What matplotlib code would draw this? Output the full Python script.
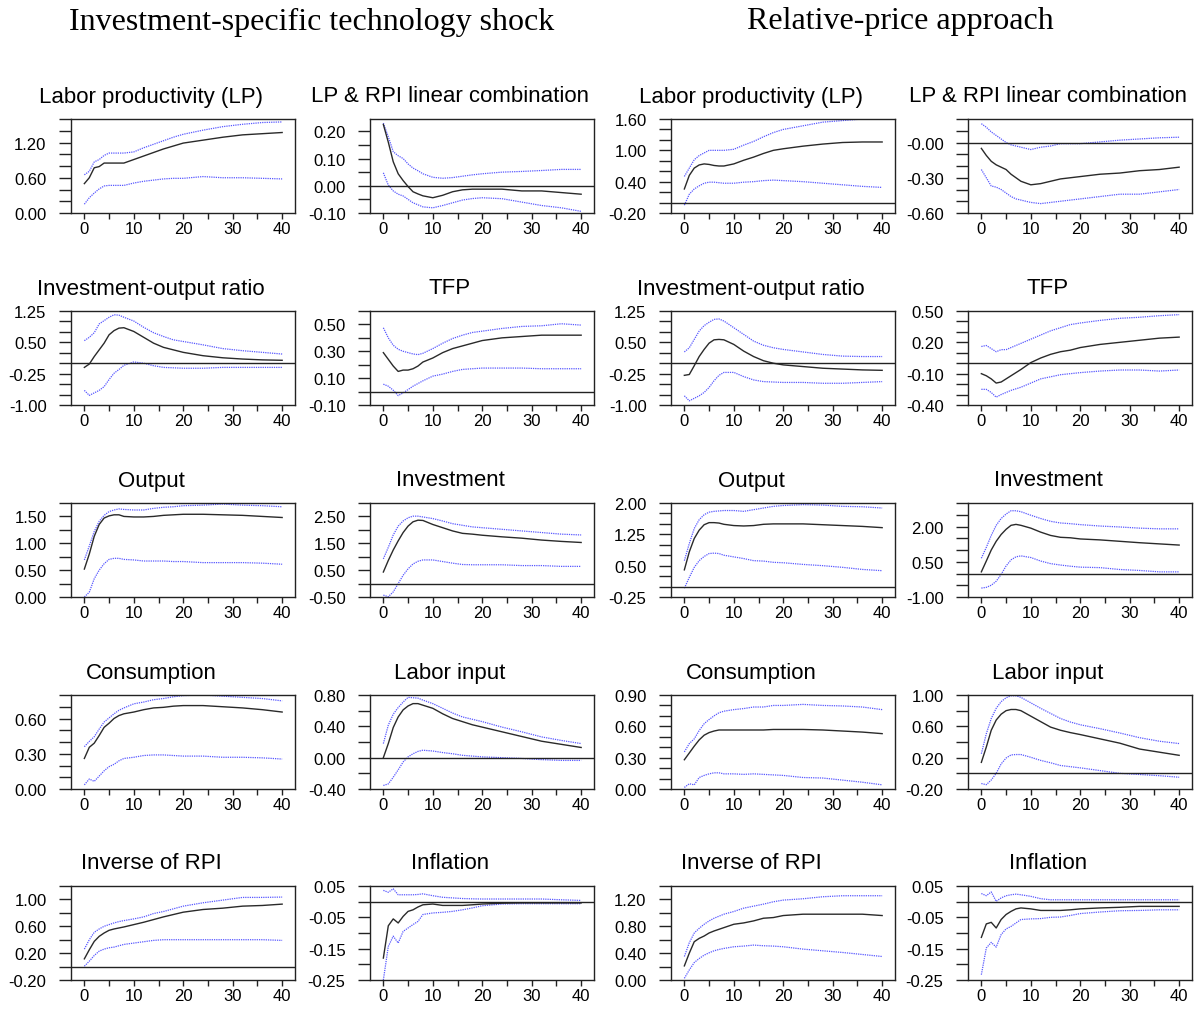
import numpy as np
import matplotlib.pyplot as plt

plt.rcParams['font.family'] = ['Liberation Sans', 'DejaVu Sans']

horizon = [0, 1, 2, 3, 4, 5, 6, 7, 8, 10, 12, 14, 16, 18, 20, 24, 28, 32, 36, 40]

# ---- investment-specific technology shock (left block)
lp_a = [0.50, 0.60, 0.77, 0.79, 0.85, 0.85, 0.85, 0.85, 0.85, 0.91, 0.97, 1.03, 1.09, 1.14, 1.19, 1.24, 1.29, 1.33, 1.35, 1.37]
lp_a_hi = [0.65, 0.71, 0.87, 0.91, 0.98, 1.02, 1.02, 1.02, 1.02, 1.04, 1.11, 1.17, 1.23, 1.29, 1.34, 1.41, 1.47, 1.51, 1.54, 1.55]
lp_a_lo = [0.15, 0.26, 0.34, 0.41, 0.46, 0.47, 0.47, 0.47, 0.47, 0.51, 0.54, 0.56, 0.58, 0.59, 0.59, 0.62, 0.60, 0.60, 0.59, 0.58]

comb_a = [0.225, 0.16, 0.088, 0.044, 0.019, -0.003, -0.022, -0.03, -0.037, -0.044, -0.035, -0.022, -0.015, -0.0125, -0.0125, -0.0125, -0.019, -0.019, -0.025, -0.031]
comb_a_hi = [0.23, 0.18, 0.125, 0.11, 0.10, 0.08, 0.065, 0.055, 0.044, 0.031, 0.0275, 0.03, 0.035, 0.04, 0.044, 0.05, 0.0525, 0.056, 0.06, 0.06]
comb_a_lo = [0.0475, 0.0025, -0.019, -0.031, -0.0375, -0.05, -0.0625, -0.07, -0.0775, -0.081, -0.0725, -0.0625, -0.0525, -0.047, -0.044, -0.0475, -0.06, -0.0725, -0.081, -0.094]

iy_a = [-0.10, -0.02, 0.16, 0.32, 0.48, 0.68, 0.78, 0.84, 0.85, 0.76, 0.62, 0.48, 0.38, 0.32, 0.26, 0.18, 0.13, 0.10, 0.08, 0.07]
iy_a_hi = [0.54, 0.62, 0.73, 0.94, 1.02, 1.10, 1.16, 1.15, 1.10, 1.01, 0.86, 0.73, 0.64, 0.56, 0.52, 0.44, 0.35, 0.30, 0.26, 0.22]
iy_a_lo = [-0.65, -0.77, -0.71, -0.65, -0.56, -0.39, -0.24, -0.15, -0.05, 0.03, 0.0, -0.06, -0.10, -0.11, -0.12, -0.12, -0.10, -0.10, -0.10, -0.10]

tfp_a = [0.29, 0.24, 0.19, 0.15, 0.16, 0.16, 0.17, 0.19, 0.22, 0.25, 0.29, 0.32, 0.34, 0.36, 0.38, 0.40, 0.41, 0.42, 0.42, 0.42]
tfp_a_hi = [0.475, 0.40, 0.345, 0.315, 0.30, 0.29, 0.28, 0.275, 0.285, 0.32, 0.36, 0.395, 0.42, 0.44, 0.45, 0.47, 0.485, 0.49, 0.505, 0.495]
tfp_a_lo = [0.055, 0.04, 0.01, -0.03, -0.01, 0.015, 0.04, 0.06, 0.08, 0.115, 0.13, 0.15, 0.165, 0.17, 0.175, 0.175, 0.175, 0.17, 0.17, 0.17]

y_a = [0.52, 0.80, 1.13, 1.35, 1.47, 1.51, 1.53, 1.53, 1.50, 1.49, 1.49, 1.50, 1.52, 1.53, 1.54, 1.54, 1.53, 1.52, 1.50, 1.48]
y_a_hi = [0.69, 0.95, 1.22, 1.41, 1.52, 1.59, 1.62, 1.64, 1.63, 1.62, 1.62, 1.65, 1.67, 1.68, 1.70, 1.71, 1.73, 1.71, 1.70, 1.68]
y_a_lo = [0.0, 0.09, 0.34, 0.50, 0.62, 0.70, 0.72, 0.72, 0.70, 0.69, 0.67, 0.67, 0.67, 0.66, 0.66, 0.64, 0.64, 0.64, 0.63, 0.61]

inv_a = [0.43, 0.86, 1.25, 1.59, 1.90, 2.14, 2.30, 2.36, 2.35, 2.20, 2.08, 1.96, 1.87, 1.84, 1.80, 1.74, 1.69, 1.62, 1.57, 1.53]
inv_a_hi = [0.92, 1.35, 1.81, 2.14, 2.33, 2.45, 2.51, 2.51, 2.48, 2.42, 2.33, 2.23, 2.17, 2.11, 2.08, 2.02, 1.96, 1.90, 1.84, 1.81]
inv_a_lo = [-0.43, -0.49, -0.31, 0.0, 0.31, 0.55, 0.73, 0.83, 0.88, 0.88, 0.82, 0.76, 0.71, 0.70, 0.70, 0.70, 0.67, 0.67, 0.64, 0.64]

c_a = [0.26, 0.355, 0.39, 0.455, 0.525, 0.56, 0.60, 0.625, 0.64, 0.655, 0.675, 0.69, 0.695, 0.705, 0.71, 0.71, 0.70, 0.69, 0.675, 0.655]
c_a_hi = [0.36, 0.405, 0.445, 0.51, 0.57, 0.605, 0.64, 0.67, 0.69, 0.725, 0.74, 0.76, 0.77, 0.785, 0.795, 0.80, 0.79, 0.78, 0.77, 0.75]
c_a_lo = [0.035, 0.085, 0.065, 0.11, 0.155, 0.19, 0.21, 0.24, 0.26, 0.27, 0.285, 0.29, 0.29, 0.285, 0.28, 0.28, 0.27, 0.27, 0.265, 0.255]

n_a = [0.0, 0.18, 0.385, 0.52, 0.61, 0.66, 0.69, 0.69, 0.67, 0.63, 0.56, 0.50, 0.46, 0.42, 0.39, 0.33, 0.27, 0.21, 0.17, 0.13]
n_a_hi = [0.18, 0.415, 0.555, 0.64, 0.71, 0.77, 0.765, 0.76, 0.735, 0.69, 0.63, 0.57, 0.52, 0.49, 0.46, 0.39, 0.33, 0.265, 0.22, 0.18]
n_a_lo = [-0.355, -0.335, -0.25, -0.155, -0.055, 0.01, 0.05, 0.08, 0.095, 0.085, 0.065, 0.05, 0.03, 0.02, 0.01, 0.0, -0.01, -0.025, -0.035, -0.035]

rpi_a = [0.115, 0.25, 0.375, 0.45, 0.50, 0.54, 0.56, 0.575, 0.59, 0.625, 0.66, 0.70, 0.74, 0.775, 0.81, 0.85, 0.87, 0.90, 0.91, 0.93]
rpi_a_hi = [0.26, 0.40, 0.51, 0.56, 0.60, 0.625, 0.65, 0.67, 0.685, 0.71, 0.74, 0.79, 0.82, 0.86, 0.90, 0.95, 0.99, 1.03, 1.03, 1.035]
rpi_a_lo = [0.005, 0.08, 0.165, 0.23, 0.26, 0.28, 0.29, 0.31, 0.33, 0.35, 0.37, 0.39, 0.40, 0.40, 0.40, 0.40, 0.40, 0.40, 0.40, 0.39]

infl_a = [-0.18, -0.077, -0.055, -0.068, -0.047, -0.031, -0.026, -0.017, -0.01, -0.0075, -0.012, -0.012, -0.012, -0.01, -0.0075, -0.005, -0.004, -0.004, -0.004, -0.004]
infl_a_hi = [0.036, 0.03, 0.041, 0.022, 0.022, 0.022, 0.022, 0.023, 0.025, 0.019, 0.014, 0.012, 0.01, 0.009, 0.0085, 0.0085, 0.0085, 0.0085, 0.006, 0.004]
infl_a_lo = [-0.25, -0.143, -0.11, -0.132, -0.095, -0.084, -0.073, -0.063, -0.041, -0.036, -0.034, -0.031, -0.026, -0.02, -0.013, -0.0075, -0.0065, -0.0065, -0.0065, -0.0065]

# ---- relative-price approach (right block)
lp_b = [0.26, 0.52, 0.66, 0.72, 0.74, 0.73, 0.71, 0.70, 0.70, 0.74, 0.81, 0.87, 0.94, 1.00, 1.03, 1.08, 1.12, 1.15, 1.16, 1.16]
lp_b_hi = [0.50, 0.66, 0.82, 0.90, 0.95, 1.00, 1.00, 1.00, 1.00, 1.02, 1.10, 1.17, 1.26, 1.34, 1.40, 1.47, 1.54, 1.57, 1.60, 1.61]
lp_b_lo = [-0.05, 0.16, 0.26, 0.32, 0.37, 0.39, 0.39, 0.38, 0.37, 0.37, 0.39, 0.40, 0.42, 0.43, 0.42, 0.40, 0.37, 0.34, 0.31, 0.29]

comb_b = [-0.05, -0.11, -0.16, -0.19, -0.21, -0.23, -0.27, -0.30, -0.33, -0.36, -0.35, -0.33, -0.31, -0.30, -0.29, -0.27, -0.26, -0.24, -0.23, -0.21]
comb_b_hi = [0.16, 0.13, 0.09, 0.06, 0.03, 0.0, -0.02, -0.03, -0.04, -0.06, -0.04, -0.03, -0.01, -0.01, -0.01, 0.005, 0.02, 0.03, 0.04, 0.045]
comb_b_lo = [-0.23, -0.30, -0.37, -0.38, -0.40, -0.43, -0.46, -0.48, -0.49, -0.51, -0.52, -0.51, -0.50, -0.49, -0.48, -0.46, -0.44, -0.44, -0.42, -0.40]

iy_b = [-0.29, -0.27, -0.06, 0.16, 0.33, 0.48, 0.56, 0.57, 0.56, 0.45, 0.29, 0.16, 0.06, 0.0, -0.04, -0.08, -0.12, -0.14, -0.16, -0.17]
iy_b_hi = [0.27, 0.37, 0.57, 0.77, 0.90, 0.98, 1.05, 1.06, 1.01, 0.85, 0.69, 0.53, 0.43, 0.37, 0.33, 0.27, 0.21, 0.17, 0.16, 0.16]
iy_b_lo = [-0.78, -0.90, -0.84, -0.78, -0.70, -0.58, -0.42, -0.29, -0.22, -0.22, -0.32, -0.40, -0.44, -0.45, -0.46, -0.46, -0.48, -0.48, -0.46, -0.44]

tfp_b = [-0.10, -0.12, -0.15, -0.19, -0.18, -0.15, -0.12, -0.09, -0.06, 0.006, 0.05, 0.085, 0.11, 0.125, 0.15, 0.18, 0.20, 0.22, 0.24, 0.25]
tfp_b_hi = [0.16, 0.17, 0.14, 0.11, 0.13, 0.13, 0.15, 0.17, 0.19, 0.23, 0.27, 0.31, 0.34, 0.37, 0.385, 0.41, 0.43, 0.44, 0.455, 0.465]
tfp_b_lo = [-0.25, -0.25, -0.28, -0.325, -0.30, -0.28, -0.26, -0.245, -0.23, -0.19, -0.15, -0.13, -0.11, -0.10, -0.09, -0.075, -0.065, -0.065, -0.075, -0.065]

y_b = [0.40, 0.83, 1.15, 1.35, 1.48, 1.53, 1.53, 1.52, 1.49, 1.46, 1.45, 1.46, 1.49, 1.50, 1.50, 1.50, 1.48, 1.46, 1.44, 1.41]
y_b_hi = [0.62, 1.03, 1.39, 1.60, 1.72, 1.78, 1.80, 1.81, 1.82, 1.82, 1.80, 1.84, 1.88, 1.92, 1.94, 1.96, 1.95, 1.92, 1.91, 1.88]
y_b_lo = [-0.04, 0.22, 0.46, 0.62, 0.72, 0.79, 0.80, 0.79, 0.75, 0.71, 0.67, 0.62, 0.61, 0.58, 0.57, 0.53, 0.50, 0.46, 0.41, 0.38]

inv_b = [0.07, 0.53, 1.00, 1.37, 1.66, 1.88, 2.05, 2.09, 2.05, 1.93, 1.76, 1.62, 1.54, 1.52, 1.47, 1.43, 1.37, 1.31, 1.26, 1.21]
inv_b_hi = [0.65, 1.11, 1.62, 2.05, 2.34, 2.53, 2.67, 2.67, 2.63, 2.48, 2.34, 2.22, 2.15, 2.12, 2.08, 2.02, 1.98, 1.93, 1.90, 1.90]
inv_b_lo = [-0.62, -0.59, -0.50, -0.33, -0.04, 0.32, 0.58, 0.71, 0.75, 0.68, 0.53, 0.42, 0.36, 0.31, 0.27, 0.25, 0.17, 0.13, 0.07, 0.07]

c_b = [0.28, 0.345, 0.41, 0.47, 0.515, 0.54, 0.555, 0.565, 0.565, 0.565, 0.565, 0.565, 0.565, 0.57, 0.57, 0.57, 0.565, 0.555, 0.545, 0.53]
c_b_hi = [0.355, 0.435, 0.48, 0.56, 0.625, 0.665, 0.70, 0.73, 0.745, 0.76, 0.77, 0.785, 0.785, 0.80, 0.80, 0.81, 0.80, 0.795, 0.785, 0.76]
c_b_lo = [0.015, 0.05, 0.04, 0.11, 0.13, 0.145, 0.155, 0.155, 0.145, 0.145, 0.14, 0.145, 0.14, 0.135, 0.13, 0.11, 0.105, 0.085, 0.065, 0.04]

n_b = [0.14, 0.335, 0.55, 0.68, 0.755, 0.80, 0.815, 0.815, 0.80, 0.73, 0.66, 0.59, 0.55, 0.52, 0.495, 0.44, 0.385, 0.31, 0.27, 0.23]
n_b_hi = [0.25, 0.505, 0.70, 0.83, 0.915, 0.965, 0.99, 0.99, 0.97, 0.90, 0.83, 0.765, 0.70, 0.655, 0.62, 0.57, 0.515, 0.455, 0.41, 0.38]
n_b_lo = [-0.13, -0.145, -0.085, 0.0, 0.12, 0.195, 0.235, 0.24, 0.24, 0.205, 0.165, 0.135, 0.10, 0.085, 0.07, 0.035, 0.0, -0.015, -0.03, -0.05]

rpi_b = [0.21, 0.40, 0.57, 0.62, 0.655, 0.70, 0.73, 0.755, 0.78, 0.83, 0.85, 0.88, 0.92, 0.93, 0.96, 0.98, 0.98, 0.98, 0.98, 0.96]
rpi_b_hi = [0.35, 0.555, 0.70, 0.77, 0.83, 0.88, 0.92, 0.95, 0.98, 1.02, 1.07, 1.10, 1.13, 1.165, 1.19, 1.21, 1.24, 1.255, 1.255, 1.255]
rpi_b_lo = [0.025, 0.15, 0.26, 0.32, 0.37, 0.405, 0.435, 0.455, 0.47, 0.495, 0.505, 0.52, 0.51, 0.505, 0.495, 0.46, 0.435, 0.41, 0.38, 0.35]

infl_b = [-0.114, -0.071, -0.066, -0.084, -0.057, -0.041, -0.031, -0.023, -0.02, -0.023, -0.028, -0.028, -0.028, -0.026, -0.023, -0.02, -0.018, -0.015, -0.015, -0.015]
infl_b_hi = [0.026, 0.019, 0.031, 0.001, 0.012, 0.019, 0.022, 0.024, 0.022, 0.017, 0.0095, 0.006, 0.006, 0.006, 0.006, 0.006, 0.006, 0.006, 0.006, 0.006]
infl_b_lo = [-0.233, -0.148, -0.13, -0.145, -0.105, -0.087, -0.079, -0.068, -0.057, -0.055, -0.054, -0.05, -0.049, -0.044, -0.038, -0.033, -0.029, -0.028, -0.026, -0.026]

# labelled y ticks for each panel
lab_lp_a = ["0.00", "0.60", "1.20"]
lab_comb_a = ["-0.10", "0.00", "0.10", "0.20"]
lab_lp_b = ["-0.20", "0.40", "1.00", "1.60"]
lab_comb_b = ["-0.60", "-0.30", "-0.00"]
lab_iy = ["-1.00", "-0.25", "0.50", "1.25"]
lab_tfp_a = ["-0.10", "0.10", "0.30", "0.50"]
lab_tfp_b = ["-0.40", "-0.10", "0.20", "0.50"]
lab_y_a = ["0.00", "0.50", "1.00", "1.50"]
lab_inv_a = ["-0.50", "0.50", "1.50", "2.50"]
lab_y_b = ["-0.25", "0.50", "1.25", "2.00"]
lab_inv_b = ["-1.00", "0.50", "2.00"]
lab_c_a = ["0.00", "0.30", "0.60"]
lab_n_a = ["-0.40", "0.00", "0.40", "0.80"]
lab_c_b = ["0.00", "0.30", "0.60", "0.90"]
lab_n_b = ["-0.20", "0.20", "0.60", "1.00"]
lab_rpi_a = ["-0.20", "0.20", "0.60", "1.00"]
lab_infl = ["-0.25", "-0.15", "-0.05", "0.05"]
lab_rpi_b = ["0.00", "0.40", "0.80", "1.20"]

# (row, col, title, irf, hi, lo, ylim, tick step, labels)
panels = [
    (0, 0, "Labor productivity (LP)", lp_a, lp_a_hi, lp_a_lo, (0, 1.6), 0.2, lab_lp_a),
    (0, 1, "LP & RPI linear combination", comb_a, comb_a_hi, comb_a_lo, (-0.1, 0.245), 0.05, lab_comb_a),
    (0, 2, "Labor productivity (LP)", lp_b, lp_b_hi, lp_b_lo, (-0.2, 1.6), 0.2, lab_lp_b),
    (0, 3, "LP & RPI linear combination", comb_b, comb_b_hi, comb_b_lo, (-0.6, 0.2), 0.1, lab_comb_b),
    (1, 0, "Investment-output ratio", iy_a, iy_a_hi, iy_a_lo, (-1.0, 1.25), 0.25, lab_iy),
    (1, 1, "TFP", tfp_a, tfp_a_hi, tfp_a_lo, (-0.1, 0.6), 0.1, lab_tfp_a),
    (1, 2, "Investment-output ratio", iy_b, iy_b_hi, iy_b_lo, (-1.0, 1.25), 0.25, lab_iy),
    (1, 3, "TFP", tfp_b, tfp_b_hi, tfp_b_lo, (-0.4, 0.5), 0.1, lab_tfp_b),
    (2, 0, "Output", y_a, y_a_hi, y_a_lo, (0, 1.75), 0.25, lab_y_a),
    (2, 1, "Investment", inv_a, inv_a_hi, inv_a_lo, (-0.5, 3.0), 0.5, lab_inv_a),
    (2, 2, "Output", y_b, y_b_hi, y_b_lo, (-0.25, 2.0), 0.25, lab_y_b),
    (2, 3, "Investment", inv_b, inv_b_hi, inv_b_lo, (-1.0, 3.0), 0.5, lab_inv_b),
    (3, 0, "Consumption", c_a, c_a_hi, c_a_lo, (0, 0.8), 0.1, lab_c_a),
    (3, 1, "Labor input", n_a, n_a_hi, n_a_lo, (-0.4, 0.8), 0.2, lab_n_a),
    (3, 2, "Consumption", c_b, c_b_hi, c_b_lo, (0, 0.9), 0.1, lab_c_b),
    (3, 3, "Labor input", n_b, n_b_hi, n_b_lo, (-0.2, 1.0), 0.2, lab_n_b),
    (4, 0, "Inverse of RPI", rpi_a, rpi_a_hi, rpi_a_lo, (-0.2, 1.2), 0.2, lab_rpi_a),
    (4, 1, "Inflation", infl_a, infl_a_hi, infl_a_lo, (-0.25, 0.05), 0.05, lab_infl),
    (4, 2, "Inverse of RPI", rpi_b, rpi_b_hi, rpi_b_lo, (0, 1.4), 0.2, lab_rpi_b),
    (4, 3, "Inflation", infl_b, infl_b_hi, infl_b_lo, (-0.25, 0.05), 0.05, lab_infl),
]

W, H = 1195, 1012
fig = plt.figure(figsize=(W / 100, H / 100), dpi=100)

col_left = [71, 370, 671, 968]
row_top = [120, 312, 504, 696, 887]
box_w, box_h = 224, 94

for row, col, title, irf, hi, lo, ylim, step, labels in panels:
    l, t = col_left[col], row_top[row]
    ax = fig.add_axes([l / W, 1 - (t + box_h) / H, box_w / W, box_h / H])
    ax.plot(horizon, hi, color='#5858ff', lw=0.9, ls=(0, (1, 0.8)))
    ax.plot(horizon, lo, color='#5858ff', lw=0.9, ls=(0, (1, 0.8)))
    ax.plot(horizon, irf, color='#2a2a2a', lw=1.0)
    if ylim[0] < 0 < ylim[1]:
        ax.axhline(0, color='#222222', lw=1.0)
    ax.set_xlim(-2.7, 42.6)
    ax.set_ylim(*ylim)

    xt = list(range(0, 41, 5))
    ax.set_xticks(xt)
    ax.set_xticklabels([str(v) if v % 10 == 0 else '' for v in xt])

    yt = np.round(np.arange(ylim[0], ylim[1] + 1e-9, step), 4)
    vals = [float(s) for s in labels]
    ylab = []
    for v in yt:
        match = [s for s, f in zip(labels, vals) if abs(f - v) < 1e-6]
        ylab.append(match[0] if match else '')
    ax.set_yticks(yt)
    ax.set_yticklabels(ylab)

    ax.tick_params(axis='y', length=8.6, width=1.0, pad=9.0, labelsize=12, color='#222222')
    ax.tick_params(axis='x', length=4.3, width=1.0, pad=1.5, labelsize=12, color='#222222')
    for sp in ax.spines.values():
        sp.set_linewidth(1.0)
        sp.set_color('#222222')

    fig.text((l + box_w / 2 - 32) / W, 1 - (t - 23) / H, title,
             ha='center', va='center', fontsize=16)

fig.text(312 / W, 1 - 22 / H, "Investment-specific technology shock",
         ha='center', va='center', fontsize=23, family='Liberation Serif')
fig.text(900 / W, 1 - 22 / H, "Relative-price approach",
         ha='center', va='center', fontsize=23, family='Liberation Serif')

fig.savefig('out.png', dpi=100)
